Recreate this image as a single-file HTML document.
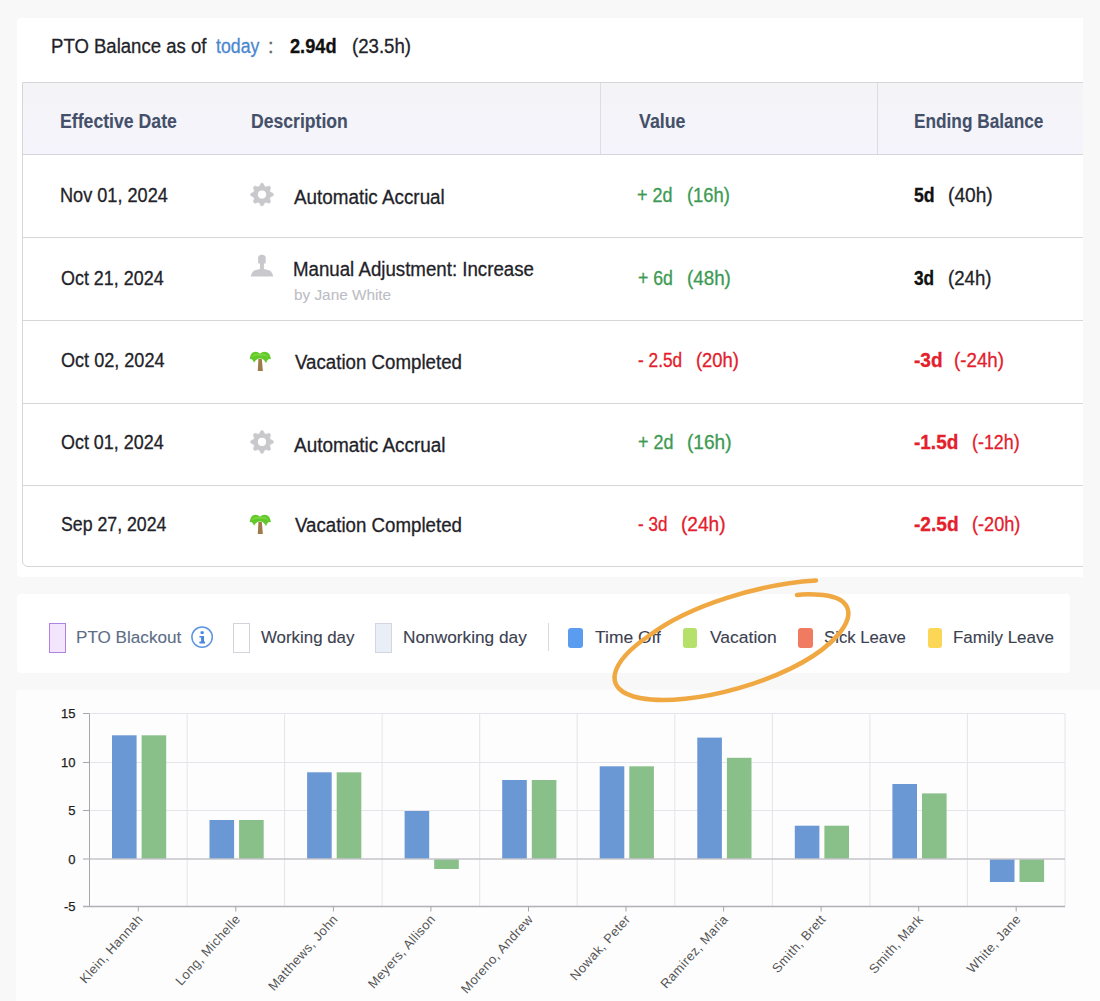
<!DOCTYPE html>
<html><head><meta charset="utf-8">
<style>
html,body{margin:0;padding:0;}
body{width:1100px;height:1001px;overflow:hidden;background:#f8f8f9;position:relative;font-family:"Liberation Sans",sans-serif;}
.abs{position:absolute;}
.clip{position:absolute;overflow:hidden;}
.card{position:absolute;background:#fff;}
.t{position:absolute;white-space:pre;line-height:1;transform-origin:0 0;-webkit-text-stroke:0.3px currentColor;}
</style></head><body>
<div class="clip" style="left:0;top:0;width:1083px;height:577px;">
<div class="card" style="left:17px;top:18px;width:1100px;height:559px;border-radius:4px 0 0 4px;"></div>
<div class="t" style="left:51.37px;top:36.27px;font-size:20px;color:#1f2329;transform:scaleX(0.9279);">PTO Balance as of</div>
<div class="t" style="left:216.30px;top:36.27px;font-size:20px;color:#4b87cf;transform:scaleX(0.8871);">today</div>
<div class="t" style="left:268.00px;top:36.27px;font-size:20px;color:#666;">:</div>
<div class="t" style="left:290.30px;top:36.27px;font-size:20px;font-weight:bold;color:#111;transform:scaleX(0.9093);">2.94d</div>
<div class="t" style="left:352.37px;top:36.27px;font-size:20px;color:#1f2329;transform:scaleX(0.9302);">(23.5h)</div>
<div class="abs" style="left:22px;top:82px;width:1100px;height:485px;border:1px solid #d5d5da;border-radius:0 0 0 6px;box-sizing:border-box;"></div>
<div class="abs" style="left:23px;top:83px;width:1100px;height:71px;background:linear-gradient(#f4f4f7,#f5f4fc);"></div>
<div class="abs" style="left:600px;top:83px;width:1px;height:71px;background:#dcdce2;"></div>
<div class="abs" style="left:877px;top:83px;width:1px;height:71px;background:#dcdce2;"></div>
<div class="abs" style="left:23px;top:154px;width:1100px;height:1px;background:#d5d5da;"></div>
<div class="abs" style="left:23px;top:237px;width:1100px;height:1px;background:#d5d5da;"></div>
<div class="abs" style="left:23px;top:320px;width:1100px;height:1px;background:#d5d5da;"></div>
<div class="abs" style="left:23px;top:403px;width:1100px;height:1px;background:#d5d5da;"></div>
<div class="abs" style="left:23px;top:485px;width:1100px;height:1px;background:#d5d5da;"></div>
<div class="t" style="left:59.92px;top:110.97px;font-size:20px;font-weight:bold;color:#445069;transform:scaleX(0.8837);-webkit-text-stroke:0.1px currentColor;">Effective Date</div>
<div class="t" style="left:251.42px;top:110.97px;font-size:20px;font-weight:bold;color:#445069;transform:scaleX(0.8803);-webkit-text-stroke:0.1px currentColor;">Description</div>
<div class="t" style="left:638.80px;top:110.97px;font-size:20px;font-weight:bold;color:#445069;transform:scaleX(0.8900);-webkit-text-stroke:0.1px currentColor;">Value</div>
<div class="t" style="left:914.44px;top:110.97px;font-size:20px;font-weight:bold;color:#445069;transform:scaleX(0.8623);-webkit-text-stroke:0.1px currentColor;">Ending Balance</div>
<div class="t" style="left:59.89px;top:184.87px;font-size:20px;color:#1f2329;transform:scaleX(0.9062);">Nov 01, 2024</div>
<div class="t" style="left:294.30px;top:186.67px;font-size:20px;color:#1f2329;transform:scaleX(0.9420);">Automatic Accrual</div>
<div class="t" style="left:637.30px;top:184.87px;font-size:20px;color:#3c9a52;transform:scaleX(0.8968);">+ 2d</div>
<div class="t" style="left:687.38px;top:184.87px;font-size:20px;color:#3c9a52;transform:scaleX(0.9194);">(16h)</div>
<div class="t" style="left:914.30px;top:184.87px;font-size:20px;font-weight:bold;color:#111;transform:scaleX(0.8860);">5d</div>
<div class="t" style="left:947.94px;top:184.87px;font-size:20px;color:#1f2329;transform:scaleX(0.9572);">(40h)</div>
<svg class="abs" style="left:0;top:0;overflow:visible" width="1" height="1"><path d="M259.34,186.42 L261.02,183.34 L262.98,183.34 L264.66,186.42 L265.90,186.94 L269.26,185.94 L270.66,187.34 L269.66,190.70 L270.18,191.94 L273.26,193.62 L273.26,195.58 L270.18,197.26 L269.66,198.50 L270.66,201.86 L269.26,203.26 L265.90,202.26 L264.66,202.78 L262.98,205.86 L261.02,205.86 L259.34,202.78 L258.10,202.26 L254.74,203.26 L253.34,201.86 L254.34,198.50 L253.82,197.26 L250.74,195.58 L250.74,193.62 L253.82,191.94 L254.34,190.70 L253.34,187.34 L254.74,185.94 L258.10,186.94 Z" fill="#c9c9cd" stroke="#c9c9cd" stroke-width="0.6" stroke-linejoin="round"/><circle cx="262" cy="194.60000000000002" r="4.1" fill="#fff"/></svg>
<div class="t" style="left:60.80px;top:267.67px;font-size:20px;color:#1f2329;transform:scaleX(0.8960);">Oct 21, 2024</div>
<div class="t" style="left:293.17px;top:258.57px;font-size:20px;color:#1f2329;transform:scaleX(0.9341);">Manual Adjustment: Increase</div>
<div class="t" style="left:637.80px;top:267.67px;font-size:20px;color:#3c9a52;transform:scaleX(0.8837);">+ 6d</div>
<div class="t" style="left:686.66px;top:267.67px;font-size:20px;color:#3c9a52;transform:scaleX(0.9394);">(48h)</div>
<div class="t" style="left:914.10px;top:267.67px;font-size:20px;font-weight:bold;color:#111;transform:scaleX(0.8634);">3d</div>
<div class="t" style="left:948.37px;top:267.67px;font-size:20px;color:#1f2329;transform:scaleX(0.9327);">(24h)</div>
<svg class="abs" style="left:250px;top:254px" width="24" height="24" viewBox="0 0 24 24"><path d="M8.1,3.4 Q8.4,0.7 11.9,0.7 Q15.4,0.7 15.7,3.4 L15.7,9.6 L13.9,9.6 L13.9,15 Q17.5,15.5 19.6,16.6 Q22.2,17.9 23.2,22.5 L0.8,22.5 Q1.8,17.9 4.4,16.6 Q6.5,15.5 10,15 L10,9.6 L8.1,9.6 Z" fill="#c9c9cd"/></svg>
<div class="t" style="left:60.80px;top:350.47px;font-size:20px;color:#1f2329;transform:scaleX(0.9039);">Oct 02, 2024</div>
<div class="t" style="left:294.60px;top:352.27px;font-size:20px;color:#1f2329;transform:scaleX(0.9346);">Vacation Completed</div>
<div class="t" style="left:637.80px;top:350.47px;font-size:20px;color:#e3202c;transform:scaleX(0.8637);">- 2.5d</div>
<div class="t" style="left:696.38px;top:350.47px;font-size:20px;color:#e3202c;transform:scaleX(0.9194);">(20h)</div>
<div class="t" style="left:913.80px;top:350.47px;font-size:20px;font-weight:bold;color:#e3202c;transform:scaleX(0.9519);">-3d</div>
<div class="t" style="left:954.36px;top:350.47px;font-size:20px;color:#e3202c;transform:scaleX(0.9364);">(-24h)</div>
<svg class="abs" style="left:245px;top:345.0px" width="30" height="30" viewBox="0 0 30 30"><path d="M13.4,14 L16.8,14 L17.9,25.9 L12.8,25.9 Z" fill="#9d7b4a"/><path d="M15,8.7 Q12,5.6 8.2,7.3 Q5.2,9 4.8,14.3 Q7.2,12.6 9.1,17.8 Q10.8,13.6 15,13.4 Q19.2,13.6 21,18.2 Q22.8,12.6 25.9,14.3 Q25.3,9 22,7.3 Q18.2,5.6 15,8.7 Z" fill="#62c92a"/><path d="M15,9.5 Q11.5,8 9,9.5 Q7,11 6.5,13 Q10,9.5 15,11 Q20,9.5 23.5,13 Q23,11 21,9.5 Q18.5,8 15,9.5 Z" fill="#86dc4a" opacity="0.7"/></svg>
<div class="t" style="left:60.80px;top:432.17px;font-size:20px;color:#1f2329;transform:scaleX(0.8960);">Oct 01, 2024</div>
<div class="t" style="left:294.30px;top:435.47px;font-size:20px;color:#1f2329;transform:scaleX(0.9469);">Automatic Accrual</div>
<div class="t" style="left:637.80px;top:432.17px;font-size:20px;color:#3c9a52;transform:scaleX(0.8968);">+ 2d</div>
<div class="t" style="left:686.85px;top:432.17px;font-size:20px;color:#3c9a52;transform:scaleX(0.9527);">(16h)</div>
<div class="t" style="left:913.60px;top:432.17px;font-size:20px;font-weight:bold;color:#e3202c;transform:scaleX(0.9480);">-1.5d</div>
<div class="t" style="left:972.41px;top:432.17px;font-size:20px;color:#e3202c;transform:scaleX(0.8919);">(-12h)</div>
<svg class="abs" style="left:0;top:0;overflow:visible" width="1" height="1"><path d="M259.34,433.72 L261.02,430.64 L262.98,430.64 L264.66,433.72 L265.90,434.24 L269.26,433.24 L270.66,434.64 L269.66,438.00 L270.18,439.24 L273.26,440.92 L273.26,442.88 L270.18,444.56 L269.66,445.80 L270.66,449.16 L269.26,450.56 L265.90,449.56 L264.66,450.08 L262.98,453.16 L261.02,453.16 L259.34,450.08 L258.10,449.56 L254.74,450.56 L253.34,449.16 L254.34,445.80 L253.82,444.56 L250.74,442.88 L250.74,440.92 L253.82,439.24 L254.34,438.00 L253.34,434.64 L254.74,433.24 L258.10,434.24 Z" fill="#c9c9cd" stroke="#c9c9cd" stroke-width="0.6" stroke-linejoin="round"/><circle cx="262" cy="441.90000000000003" r="4.1" fill="#fff"/></svg>
<div class="t" style="left:60.80px;top:513.57px;font-size:20px;color:#1f2329;transform:scaleX(0.8858);">Sep 27, 2024</div>
<div class="t" style="left:294.60px;top:515.37px;font-size:20px;color:#1f2329;transform:scaleX(0.9346);">Vacation Completed</div>
<div class="t" style="left:637.80px;top:513.57px;font-size:20px;color:#e3202c;transform:scaleX(0.8518);">- 3d</div>
<div class="t" style="left:680.85px;top:513.57px;font-size:20px;color:#e3202c;transform:scaleX(0.9527);">(24h)</div>
<div class="t" style="left:913.80px;top:513.57px;font-size:20px;font-weight:bold;color:#e3202c;transform:scaleX(0.9546);">-2.5d</div>
<div class="t" style="left:971.89px;top:513.57px;font-size:20px;color:#e3202c;transform:scaleX(0.9073);">(-20h)</div>
<svg class="abs" style="left:245px;top:508.1px" width="30" height="30" viewBox="0 0 30 30"><path d="M13.4,14 L16.8,14 L17.9,25.9 L12.8,25.9 Z" fill="#9d7b4a"/><path d="M15,8.7 Q12,5.6 8.2,7.3 Q5.2,9 4.8,14.3 Q7.2,12.6 9.1,17.8 Q10.8,13.6 15,13.4 Q19.2,13.6 21,18.2 Q22.8,12.6 25.9,14.3 Q25.3,9 22,7.3 Q18.2,5.6 15,8.7 Z" fill="#62c92a"/><path d="M15,9.5 Q11.5,8 9,9.5 Q7,11 6.5,13 Q10,9.5 15,11 Q20,9.5 23.5,13 Q23,11 21,9.5 Q18.5,8 15,9.5 Z" fill="#86dc4a" opacity="0.7"/></svg>
<div class="t" style="left:293.50px;top:286.60px;font-size:15px;color:#bdbdc4;transform:scaleX(1.0221);-webkit-text-stroke:0.1px currentColor;">by Jane White</div>
</div>
<div class="card" style="left:17px;top:594px;width:1053px;height:79px;border-radius:4px;"></div>
<div class="abs" style="left:49px;top:623px;width:17px;height:30px;box-sizing:border-box;border:1.7px solid #b282e3;background:#f3e5fc;"></div>
<div class="abs" style="left:233px;top:623px;width:17px;height:30px;box-sizing:border-box;border:1px solid #d2d4dc;background:#fff;"></div>
<div class="abs" style="left:375px;top:623px;width:17px;height:30px;box-sizing:border-box;border:1px solid #d2d6e0;background:#e9eef7;"></div>
<div class="abs" style="left:548px;top:623px;width:1px;height:28px;background:#d8d8de;"></div>
<div class="abs" style="left:568px;top:628px;width:14.5px;height:20px;border-radius:3px;background:#5a9cf0;"></div>
<div class="abs" style="left:683px;top:628px;width:14.0px;height:20px;border-radius:3px;background:#b5e06a;"></div>
<div class="abs" style="left:798px;top:628px;width:14.7px;height:20px;border-radius:3px;background:#f07b60;"></div>
<div class="abs" style="left:928.4px;top:628px;width:13.4px;height:20px;border-radius:3px;background:#fcd755;"></div>
<div class="t" style="left:75.69px;top:629.11px;font-size:17px;color:#5d6d86;transform:scaleX(1.0063);-webkit-text-stroke:0.1px currentColor;">PTO Blackout</div>
<div class="t" style="left:261.30px;top:629.11px;font-size:17px;color:#3b4150;transform:scaleX(0.9918);-webkit-text-stroke:0.1px currentColor;">Working day</div>
<div class="t" style="left:402.88px;top:629.11px;font-size:17px;color:#3b4150;transform:scaleX(1.0157);-webkit-text-stroke:0.1px currentColor;">Nonworking day</div>
<div class="t" style="left:595.30px;top:629.11px;font-size:17px;color:#3b4150;transform:scaleX(1.0262);-webkit-text-stroke:0.1px currentColor;">Time Off</div>
<div class="t" style="left:709.90px;top:629.11px;font-size:17px;color:#3b4150;transform:scaleX(1.0288);-webkit-text-stroke:0.1px currentColor;">Vacation</div>
<div class="t" style="left:824.30px;top:629.11px;font-size:17px;color:#3b4150;transform:scaleX(0.9842);-webkit-text-stroke:0.1px currentColor;">Sick Leave</div>
<div class="t" style="left:953.30px;top:629.11px;font-size:17px;color:#3b4150;transform:scaleX(0.9976);-webkit-text-stroke:0.1px currentColor;">Family Leave</div>
<svg class="abs" style="left:190px;top:625px" width="24" height="24" viewBox="0 0 24 24"><circle cx="12.1" cy="12.1" r="10.2" fill="none" stroke="#5b94e2" stroke-width="1.5"/><rect x="10.5" y="6.2" width="3.3" height="2.9" rx="0.8" fill="#4a88dd"/><path d="M9.4,10.9 L14,10.9 L14,16.5 L15,16.5 L15,18.4 L9.4,18.4 L9.4,16.5 L11.1,16.5 L11.1,12.5 L9.4,12.5 Z" fill="#4a88dd"/></svg>
<div class="card" style="left:16px;top:690px;width:1090px;height:320px;border-radius:4px;background:#fdfdfd;"></div>
<svg class="abs" style="left:0;top:0" width="1100" height="1001" font-family="Liberation Sans"><line x1="89.5" y1="713.5" x2="1065" y2="713.5" stroke="#e6e4ea" stroke-width="1"/><line x1="89.5" y1="762.5" x2="1065" y2="762.5" stroke="#e6e4ea" stroke-width="1"/><line x1="89.5" y1="810.5" x2="1065" y2="810.5" stroke="#e6e4ea" stroke-width="1"/><line x1="187.1" y1="713.5" x2="187.1" y2="906.5" stroke="#e6e3ea" stroke-width="1"/><line x1="284.6" y1="713.5" x2="284.6" y2="906.5" stroke="#e6e3ea" stroke-width="1"/><line x1="382.1" y1="713.5" x2="382.1" y2="906.5" stroke="#e6e3ea" stroke-width="1"/><line x1="479.7" y1="713.5" x2="479.7" y2="906.5" stroke="#e6e3ea" stroke-width="1"/><line x1="577.2" y1="713.5" x2="577.2" y2="906.5" stroke="#e6e3ea" stroke-width="1"/><line x1="674.8" y1="713.5" x2="674.8" y2="906.5" stroke="#e6e3ea" stroke-width="1"/><line x1="772.4" y1="713.5" x2="772.4" y2="906.5" stroke="#e6e3ea" stroke-width="1"/><line x1="869.9" y1="713.5" x2="869.9" y2="906.5" stroke="#e6e3ea" stroke-width="1"/><line x1="967.4" y1="713.5" x2="967.4" y2="906.5" stroke="#e6e3ea" stroke-width="1"/><line x1="1065.0" y1="713.5" x2="1065.0" y2="906.5" stroke="#e6e3ea" stroke-width="1"/><line x1="89.5" y1="713.5" x2="89.5" y2="906.5" stroke="#a6a6ac" stroke-width="1"/><line x1="83" y1="713.5" x2="89.5" y2="713.5" stroke="#a6a6ac" stroke-width="1"/><text x="75.5" y="718.15" text-anchor="end" font-size="13" fill="#222" stroke="#222" stroke-width="0.25">15</text><line x1="83" y1="762.5" x2="89.5" y2="762.5" stroke="#a6a6ac" stroke-width="1"/><text x="75.5" y="767.15" text-anchor="end" font-size="13" fill="#222" stroke="#222" stroke-width="0.25">10</text><line x1="83" y1="810.5" x2="89.5" y2="810.5" stroke="#a6a6ac" stroke-width="1"/><text x="75.5" y="815.15" text-anchor="end" font-size="13" fill="#222" stroke="#222" stroke-width="0.25">5</text><line x1="83" y1="859.0" x2="89.5" y2="859.0" stroke="#a6a6ac" stroke-width="1"/><text x="75.5" y="863.65" text-anchor="end" font-size="13" fill="#222" stroke="#222" stroke-width="0.25">0</text><line x1="83" y1="906.5" x2="89.5" y2="906.5" stroke="#a6a6ac" stroke-width="1"/><text x="75.5" y="911.15" text-anchor="end" font-size="13" fill="#222" stroke="#222" stroke-width="0.25">-5</text><rect x="112.0" y="735.3" width="24.6" height="123.7" fill="#6a98d4"/><rect x="141.6" y="735.3" width="24.6" height="123.7" fill="#89c08a"/><rect x="209.5" y="820.0" width="24.6" height="39.0" fill="#6a98d4"/><rect x="239.1" y="820.0" width="24.6" height="39.0" fill="#89c08a"/><rect x="307.1" y="772.3" width="24.6" height="86.7" fill="#6a98d4"/><rect x="336.7" y="772.3" width="24.6" height="86.7" fill="#89c08a"/><rect x="404.6" y="811.0" width="24.6" height="48.0" fill="#6a98d4"/><rect x="434.2" y="859.0" width="24.6" height="10.0" fill="#89c08a"/><rect x="502.2" y="780.0" width="24.6" height="79.0" fill="#6a98d4"/><rect x="531.8" y="780.0" width="24.6" height="79.0" fill="#89c08a"/><rect x="599.7" y="766.3" width="24.6" height="92.7" fill="#6a98d4"/><rect x="629.3" y="766.3" width="24.6" height="92.7" fill="#89c08a"/><rect x="697.3" y="737.6" width="24.6" height="121.4" fill="#6a98d4"/><rect x="726.9" y="757.8" width="24.6" height="101.2" fill="#89c08a"/><rect x="794.8" y="825.7" width="24.6" height="33.3" fill="#6a98d4"/><rect x="824.4" y="825.7" width="24.6" height="33.3" fill="#89c08a"/><rect x="892.4" y="784.0" width="24.6" height="75.0" fill="#6a98d4"/><rect x="922.0" y="793.4" width="24.6" height="65.6" fill="#89c08a"/><rect x="989.9" y="859.0" width="24.6" height="23.0" fill="#6a98d4"/><rect x="1019.5" y="859.0" width="24.6" height="23.0" fill="#89c08a"/><line x1="89.5" y1="859" x2="1065" y2="859" stroke="#c4c4ca" stroke-width="1.4"/><line x1="83" y1="906.5" x2="1065" y2="906.5" stroke="#b0b0b6" stroke-width="1.3"/><line x1="138.3" y1="906.5" x2="138.3" y2="911.5" stroke="#a6a6ac" stroke-width="1"/><text x="143.6" y="919.7" text-anchor="end" font-size="13" letter-spacing="0.4" fill="#555" transform="rotate(-48 143.6 919.7)">Klein, Hannah</text><line x1="235.8" y1="906.5" x2="235.8" y2="911.5" stroke="#a6a6ac" stroke-width="1"/><text x="241.1" y="919.7" text-anchor="end" font-size="13" letter-spacing="0.4" fill="#555" transform="rotate(-48 241.1 919.7)">Long, Michelle</text><line x1="333.4" y1="906.5" x2="333.4" y2="911.5" stroke="#a6a6ac" stroke-width="1"/><text x="338.7" y="919.7" text-anchor="end" font-size="13" letter-spacing="0.4" fill="#555" transform="rotate(-48 338.7 919.7)">Matthews, John</text><line x1="430.9" y1="906.5" x2="430.9" y2="911.5" stroke="#a6a6ac" stroke-width="1"/><text x="436.2" y="919.7" text-anchor="end" font-size="13" letter-spacing="0.4" fill="#555" transform="rotate(-48 436.2 919.7)">Meyers, Allison</text><line x1="528.5" y1="906.5" x2="528.5" y2="911.5" stroke="#a6a6ac" stroke-width="1"/><text x="533.8" y="919.7" text-anchor="end" font-size="13" letter-spacing="0.4" fill="#555" transform="rotate(-48 533.8 919.7)">Moreno, Andrew</text><line x1="626.0" y1="906.5" x2="626.0" y2="911.5" stroke="#a6a6ac" stroke-width="1"/><text x="631.3" y="919.7" text-anchor="end" font-size="13" letter-spacing="0.4" fill="#555" transform="rotate(-48 631.3 919.7)">Nowak, Peter</text><line x1="723.6" y1="906.5" x2="723.6" y2="911.5" stroke="#a6a6ac" stroke-width="1"/><text x="728.9" y="919.7" text-anchor="end" font-size="13" letter-spacing="0.4" fill="#555" transform="rotate(-48 728.9 919.7)">Ramirez, Maria</text><line x1="821.1" y1="906.5" x2="821.1" y2="911.5" stroke="#a6a6ac" stroke-width="1"/><text x="826.4" y="919.7" text-anchor="end" font-size="13" letter-spacing="0.4" fill="#555" transform="rotate(-48 826.4 919.7)">Smith, Brett</text><line x1="918.7" y1="906.5" x2="918.7" y2="911.5" stroke="#a6a6ac" stroke-width="1"/><text x="924.0" y="919.7" text-anchor="end" font-size="13" letter-spacing="0.4" fill="#555" transform="rotate(-48 924.0 919.7)">Smith, Mark</text><line x1="1016.2" y1="906.5" x2="1016.2" y2="911.5" stroke="#a6a6ac" stroke-width="1"/><text x="1021.5" y="919.7" text-anchor="end" font-size="13" letter-spacing="0.4" fill="#555" transform="rotate(-48 1021.5 919.7)">White, Jane</text></svg>
<svg class="abs" style="left:0;top:0" width="1100" height="1001"><path d="M816,580.5 C760,584 690,605 650,635 C610,662 600,690 640,698 C690,708 790,680 830,643 C860,615 850,598 823,595 C812,594 803,594 797,595" fill="none" stroke="#f0a842" stroke-width="4.5" stroke-linecap="round"/></svg>
</body></html>
